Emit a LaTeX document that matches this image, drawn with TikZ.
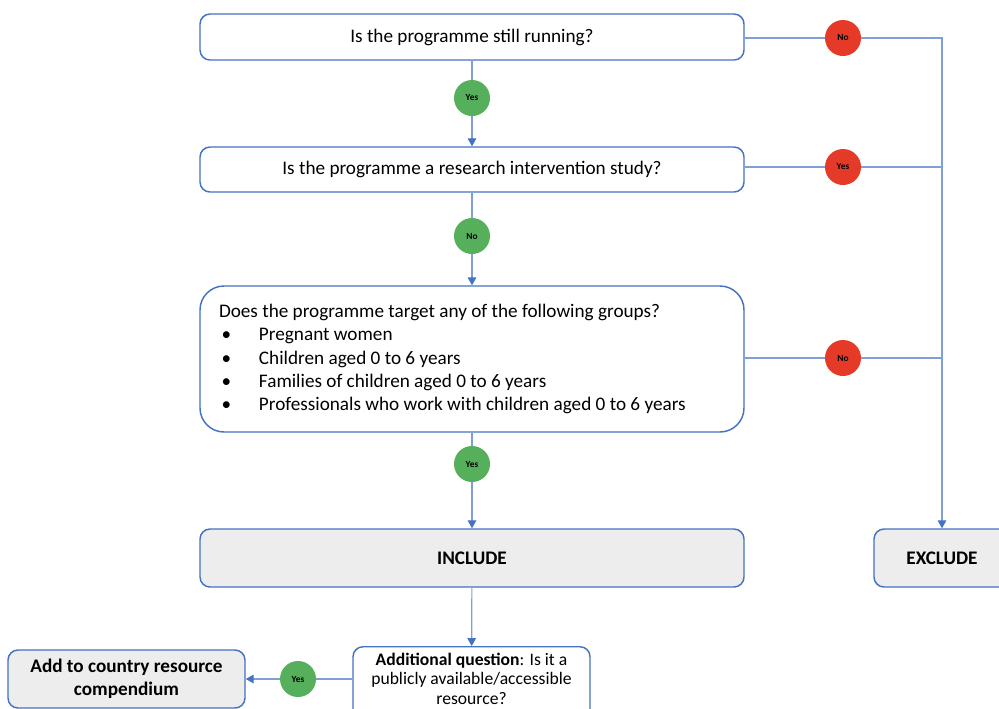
\documentclass[tikz,border=0pt]{standalone}
\usepackage{fontspec}
\setmainfont{Carlito}
\usetikzlibrary{arrows.meta}

\definecolor{boxblue}{HTML}{4472C4}
\definecolor{lineblue}{HTML}{7F9FD8}
\definecolor{yesgreen}{HTML}{55AF5B}
\definecolor{nored}{HTML}{E63A28}
\definecolor{boxgrey}{HTML}{EDEDED}

\begin{document}
\begin{tikzpicture}[x=0.75pt,y=-0.75pt,
  qbox/.style={draw=boxblue,line width=1.1pt,rounded corners=7.5pt,fill=white,
    font=\fontsize{14.4}{17.3}\selectfont,inner sep=0pt,align=center},
  endbox/.style={qbox,fill=boxgrey,font=\fontsize{14.4}{17.3}\selectfont\bfseries},
  yes/.style={circle,fill=yesgreen,minimum size=27pt,inner sep=0pt,
    font=\fontsize{7}{8}\selectfont\bfseries},
  no/.style={yes,fill=nored},
  conn/.style={draw=lineblue,line width=0.9pt},
  arr/.style={conn,-{Triangle[length=6pt,width=6.5pt,color=boxblue]}}]
  \useasboundingbox (0,0) rectangle (999,708);
  \clip (0,0) rectangle (999,708);

  % questions
  \node[qbox,minimum width=408pt,minimum height=34.5pt] (q1) at (472,37)
     {Is the programme still running?};
  \node[qbox,minimum width=408pt,minimum height=33.75pt] (q2) at (472,169.5)
     {Is the programme a research intervention study?};
  \node[qbox,rounded corners=18pt,minimum width=408pt,minimum height=109.5pt] (q3) at (472,359)
     {\parbox{379.5pt}{Does the programme target any of the following groups?\\
      \hspace*{2pt}\makebox[28pt][l]{\textbullet}Pregnant women\\
      \hspace*{2pt}\makebox[28pt][l]{\textbullet}Children aged 0 to 6 years\\
      \hspace*{2pt}\makebox[28pt][l]{\textbullet}Families of children aged 0 to 6 years\\
      \hspace*{2pt}\makebox[28pt][l]{\textbullet}Professionals who work with children aged 0 to 6 years}};
  \node[endbox,minimum width=408pt,minimum height=43.5pt] (incl) at (472,558) {INCLUDE};
  \node[endbox,minimum width=102pt,minimum height=43.5pt] (excl) at (942,558) {EXCLUDE};
  \node[qbox,minimum width=177.75pt,inner ysep=4.5pt,text depth=14pt,anchor=north,
        font=\fontsize{13.2}{14.6}\selectfont] (aq) at (471.5,646)
     {\textbf{Additional question}: Is it a\\publicly available/accessible\\resource?};
  \node[endbox,minimum width=177.75pt,minimum height=43.5pt] (add) at (126.5,679)
     {Add to country resource\\compendium};

  % answers
  \node[yes] (y1) at (472,98) {Yes};
  \node[no]  (n1) at (843,38) {No};
  \node[no]  (n2) at (843,167) {Yes};
  \node[yes] (y2) at (472,236) {No};
  \node[no]  (n3) at (843,358) {No};
  \node[yes] (y3) at (472,464) {Yes};
  \node[yes] (y4) at (298,679) {Yes};
  \coordinate (r1) at (942,38);
  \coordinate (r2) at (942,167);
  \coordinate (r3) at (942,358);

  % main path
  \draw[conn] (q1) -- (y1);
  \draw[arr]  (y1) -- (q2);
  \draw[conn] (q2) -- (y2);
  \draw[arr]  (y2) -- (q3);
  \draw[conn] (q3) -- (y3);
  \draw[arr]  (y3) -- (incl);
  \draw[arr]  (incl) -- (aq);
  \draw[conn] (aq.west |- y4) -- (y4);
  \draw[arr]  (y4) -- (add.east |- y4);

  % exclusion path
  \draw[conn] (q1.east |- n1) -- (n1);
  \draw[conn] (q2.east |- n2) -- (n2);
  \draw[conn] (q3.east |- n3) -- (n3);
  \draw[conn] (n1) -- (r1) -- (r2) -- (r3);
  \draw[conn] (n2) -- (r2);
  \draw[conn] (n3) -- (r3);
  \draw[arr]  (r3) -- (r3 |- excl.north);
\end{tikzpicture}
\end{document}
